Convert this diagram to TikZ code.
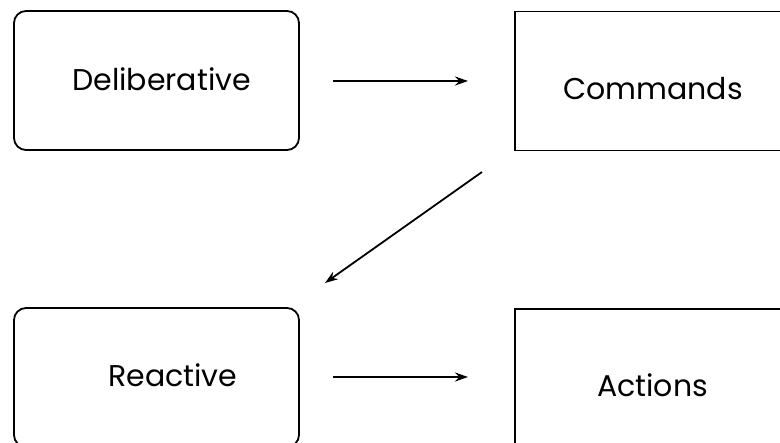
\documentclass[tikz,border=0pt]{standalone}
\usepackage{fontspec}
\setmainfont{Poppins}
\usetikzlibrary{arrows.meta}
\begin{document}
\begin{tikzpicture}[x=1pt,y=-1pt,
  block/.style={draw, line width=1.8pt, minimum width=285pt, minimum height=139pt, inner sep=0pt},
  softblock/.style={block, rounded corners=12pt},
  label/.style={anchor=base west, inner sep=0pt, font=\fontsize{30}{36}\selectfont},
  link/.style={line width=1.8pt, -{Stealth[length=13pt,width=9pt]}}]
\useasboundingbox (0,0) rectangle (780,443);
\clip (0,0) rectangle (780,443);
% boxes
\node[softblock] (delib) at (156.5,80.5) {};
\node[block] (cmds) at (657.5,81) {};
\node[softblock] (react) at (156.5,377.5) {};
\node[block] (acts) at (657.5,378.5) {};
% captions
\node[label] (tdelib) at (72,91) {Deliberative};
\node[label] (tcmds) at (563,100) {Commands};
\node[label] (treact) at (108,387) {Reactive};
\node[label] (tacts) at (597,397) {Actions};
% flow
\coordinate (dstart) at (482,172);
\coordinate (dend) at (325,283);
\draw[link] (delib.east |- 0,81) ++(33,0) -- (468,81);
\draw[link] (dstart) -- (dend);
\draw[link] (react.east |- 0,377) ++(33,0) -- (468,377);
\end{tikzpicture}
\end{document}
